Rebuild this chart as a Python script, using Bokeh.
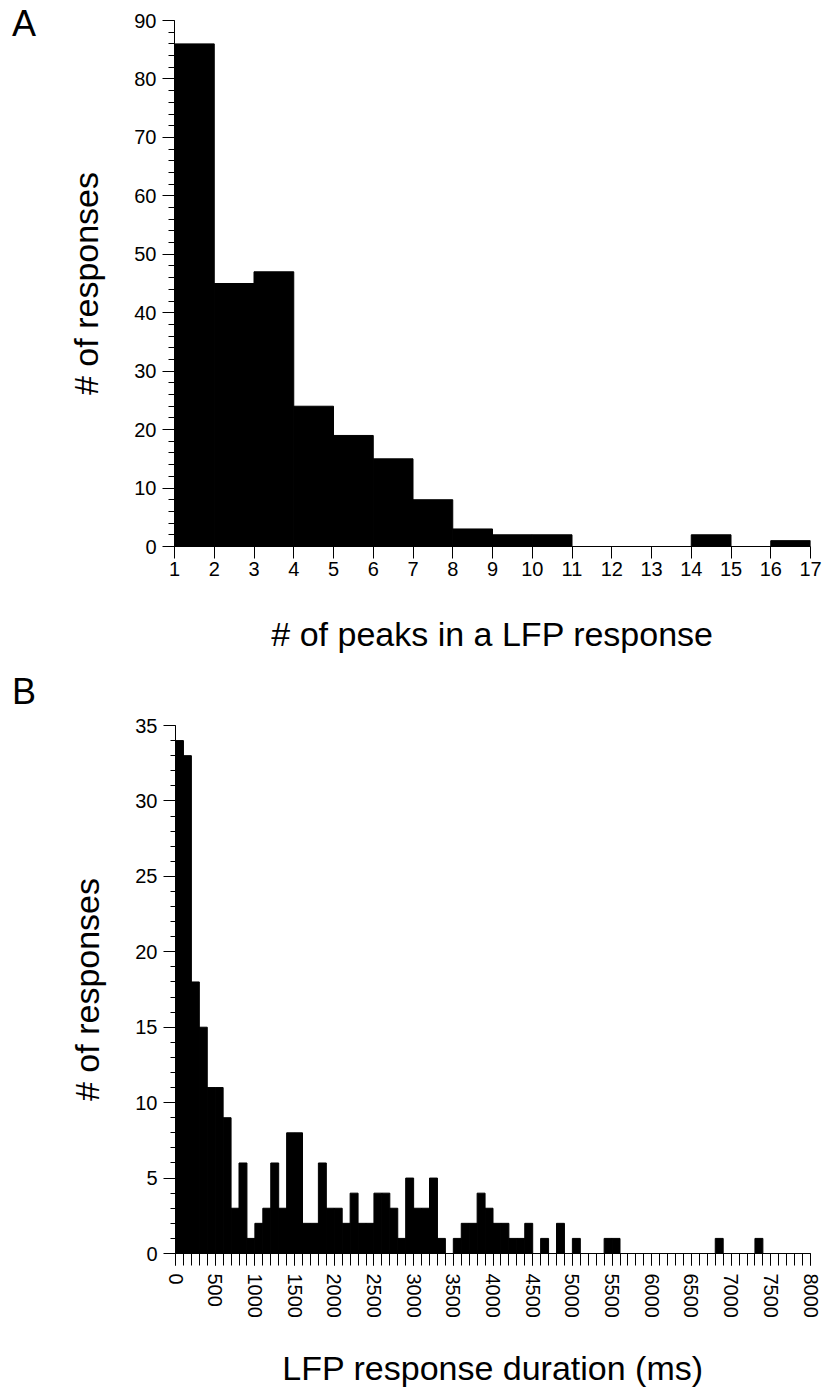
from bokeh.plotting import figure
from bokeh.models import FixedTicker, Range1d, ColumnDataSource, Div
from bokeh.layouts import column, row
from bokeh.embed import file_html
from bokeh.resources import INLINE

# ---------------- data ----------------
# Panel A: number of peaks in a LFP response (bins of width 1, from 1 to 17)
peaks_left = [1, 2, 3, 4, 5, 6, 7, 8, 9, 10, 11, 12, 13, 14, 15, 16]
peaks_counts = [86, 45, 47, 24, 19, 15, 8, 3, 2, 2, 0, 0, 0, 2, 0, 1]

# Panel B: LFP response duration (ms), bins of width 100 ms from 0 to 8000
dur_left = list(range(0, 8000, 100))
dur_counts = [34, 33, 18, 15, 11, 11, 9, 3, 6, 1,
              2, 3, 6, 3, 8, 8, 2, 2, 6, 3,
              3, 2, 4, 2, 2, 4, 4, 3, 1, 5,
              3, 3, 5, 1, 0, 1, 2, 2, 4, 3,
              2, 2, 1, 1, 2, 0, 1, 0, 2, 0,
              1, 0, 0, 0, 1, 1, 0, 0, 0, 0,
              0, 0, 0, 0, 0, 0, 0, 0, 1, 0,
              0, 0, 0, 1, 0, 0, 0, 0, 0, 0]

peaks_ticks = list(range(1, 18))
peaks_yticks = list(range(0, 91, 10))
peaks_yminor = list(range(0, 91, 2))
dur_ticks = list(range(0, 8001, 500))
dur_minor = list(range(0, 8001, 100))
dur_yticks = list(range(0, 36, 5))
dur_yminor = list(range(0, 36, 1))

FONT = "Liberation Sans"
TICK_FS = "20px"
LABEL_FS = "34px"
LETTER_W = 50


def style_axes(p):
    for ax in (p.xaxis[0], p.yaxis[0]):
        ax.axis_line_color = "black"
        ax.axis_line_width = 1
        ax.major_tick_line_color = "black"
        ax.minor_tick_line_color = "black"
        ax.major_tick_in = 0
        ax.minor_tick_in = 0
        ax.major_label_text_font = FONT
        ax.major_label_text_font_size = TICK_FS
        ax.major_label_text_color = "black"
        ax.axis_label_text_font = FONT
        ax.axis_label_text_font_size = LABEL_FS
        ax.axis_label_text_font_style = "normal"
        ax.axis_label_text_color = "black"
    p.xgrid.visible = False
    p.ygrid.visible = False
    p.outline_line_color = None


def letter(txt, h, pad_top):
    return Div(text=txt, width=LETTER_W, height=h, margin=0,
               styles={"font-family": FONT, "font-size": "36px",
                       "line-height": "1", "color": "black",
                       "padding-left": "12px", "padding-top": f"{pad_top}px",
                       "box-sizing": "border-box", "background": "white"})


# ---------------- panel A ----------------
srcA = ColumnDataSource(dict(left=peaks_left,
                             right=[v + 1 for v in peaks_left],
                             top=peaks_counts,
                             bottom=[0] * len(peaks_left)))
pA = figure(width=823 - LETTER_W, height=670, output_backend="svg", toolbar_location=None,
            x_range=Range1d(1, 17), y_range=Range1d(0, 90),
            min_border_left=174 - LETTER_W, min_border_right=13,
            min_border_top=20, min_border_bottom=124,
            background_fill_color="white", border_fill_color="white")
pA.quad(left="left", right="right", top="top", bottom="bottom", source=srcA,
        fill_color="black", line_color="black", line_width=1)
style_axes(pA)
pA.xaxis.ticker = FixedTicker(ticks=peaks_ticks, minor_ticks=[])
pA.yaxis.ticker = FixedTicker(ticks=peaks_yticks, minor_ticks=peaks_yminor)
pA.xaxis.major_tick_out = 12
pA.xaxis.major_label_standoff = 3
pA.yaxis.major_tick_out = 12
pA.yaxis.minor_tick_out = 6
pA.yaxis.major_label_standoff = 6
pA.xaxis.axis_label = "# of peaks in a LFP response"
pA.yaxis.axis_label = "# of responses"
pA.xaxis.axis_label_standoff = 36
pA.yaxis.axis_label_standoff = 26

# ---------------- panel B ----------------
srcB = ColumnDataSource(dict(left=dur_left,
                             right=[v + 100 for v in dur_left],
                             top=dur_counts,
                             bottom=[0] * len(dur_left)))
pB = figure(width=823 - LETTER_W, height=720, output_backend="svg", toolbar_location=None,
            x_range=Range1d(0, 8000), y_range=Range1d(0, 35),
            min_border_left=175 - LETTER_W, min_border_right=13,
            min_border_top=55, min_border_bottom=137,
            background_fill_color="white", border_fill_color="white")
pB.quad(left="left", right="right", top="top", bottom="bottom", source=srcB,
        fill_color="black", line_color="black", line_width=1)
style_axes(pB)
pB.xaxis.ticker = FixedTicker(ticks=dur_ticks, minor_ticks=dur_minor)
pB.yaxis.ticker = FixedTicker(ticks=dur_yticks, minor_ticks=dur_yminor)
pB.xaxis.major_tick_out = 12
pB.xaxis.minor_tick_out = 12
pB.xaxis.major_label_standoff = 8
pB.xaxis.major_label_orientation = "vertical"
pB.yaxis.major_tick_out = 12
pB.yaxis.minor_tick_out = 5
pB.yaxis.major_label_standoff = 6
pB.xaxis.axis_label = "LFP response duration (ms)"
pB.yaxis.axis_label = "# of responses"
pB.xaxis.axis_label_standoff = 28
pB.yaxis.axis_label_standoff = 26

layout = column(row(letter("A", 670, 6), pA, spacing=0),
                row(letter("B", 720, 4), pB, spacing=0), spacing=0)
open("out.html", "w").write(file_html(layout, INLINE))
